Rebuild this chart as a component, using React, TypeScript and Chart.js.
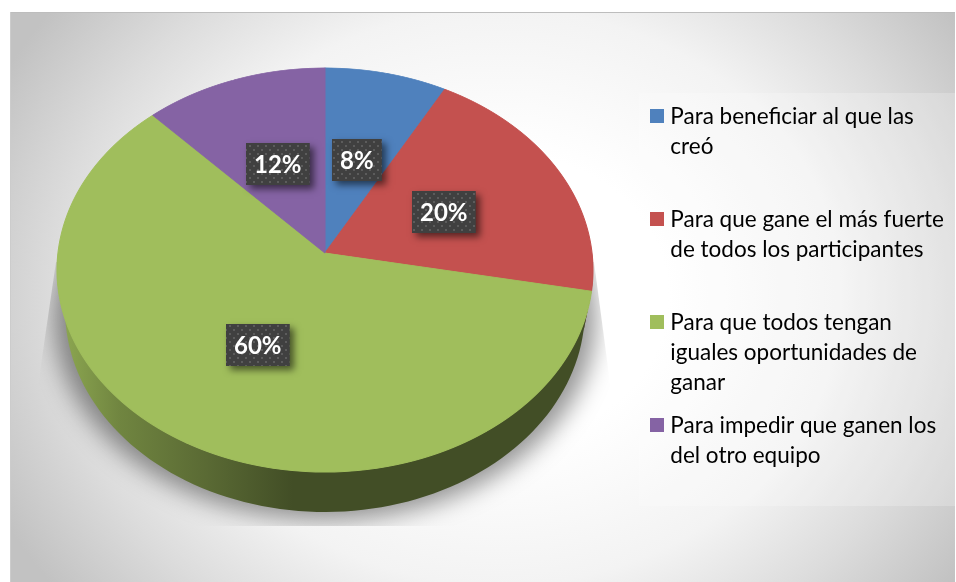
import React, { useEffect, useRef } from "react";
import { Chart, registerables } from "chart.js";

Chart.register(...registerables);

const categories = [
  ["Para beneficiar al que las", "creó", ""],
  ["Para que gane el más fuerte", "de todos los participantes", ""],
  ["Para que todos tengan", "iguales oportunidades de", "ganar"],
  ["Para impedir que ganen los", "del otro equipo", ""],
];
const percentages = [8, 20, 60, 12];
const sliceColors = ["#4f81bd", "#c4514f", "#a0be5c", "#8563a4"];

// Perspective of the pie's top face on the page
const AX = 325, AY = 253, HALF_W = 267, HALF_H = 200.6, K = -0.084, DEPTH = 40, SHRINK = 0.97;

const rgb = (hex: string) => [1, 3, 5].map((i) => parseInt(hex.slice(i, i + 2), 16));
const shade = (hex: string, f: number) => {
  const [r, g, b] = rgb(hex);
  return `rgb(${Math.round(r * f)},${Math.round(g * f)},${Math.round(b * f)})`;
};
const project = (u: number, v: number) => {
  const d = 1 + K * v;
  return { x: AX + (HALF_W * u) / d, y: AY + (HALF_H * v) / d };
};
const lower = (p: { x: number; y: number }) => ({ x: AX + (p.x - AX) * SHRINK, y: p.y + DEPTH });

const swatch = (color: string) => {
  const c = document.createElement("canvas");
  c.width = 14;
  c.height = 14;
  const x = c.getContext("2d")!;
  x.fillStyle = color;
  x.fillRect(0, 0, 14, 14);
  return c;
};

const dotPattern = (ctx: CanvasRenderingContext2D) => {
  const c = document.createElement("canvas");
  c.width = 8;
  c.height = 8;
  const x = c.getContext("2d")!;
  x.fillStyle = "#404040";
  x.fillRect(0, 0, 8, 8);
  x.fillStyle = "#5c5c5c";
  x.fillRect(1, 1, 2, 2);
  x.fillRect(5, 5, 2, 2);
  return ctx.createPattern(c, "repeat")!;
};

const pie3d = {
  id: "pie3d",
  beforeDraw(chart: any) {
    const { ctx, width, height } = chart;
    ctx.save();
    ctx.fillStyle = "#ffffff";
    ctx.fillRect(0, 0, width, height);
    // panel
    ctx.save();
    ctx.beginPath();
    ctx.rect(10, 12, 945, 570);
    ctx.clip();
    ctx.translate(500, 297);
    ctx.scale(560, 480);
    const g = ctx.createRadialGradient(0, 0, 0, 0, 0, 1);
    g.addColorStop(0, "#ffffff");
    g.addColorStop(0.3, "#ffffff");
    g.addColorStop(0.6, "#f3f3f3");
    g.addColorStop(0.8, "#dcdcdc");
    g.addColorStop(1, "#c2c2c2");
    ctx.fillStyle = g;
    ctx.fillRect(-2, -2, 4, 4);
    ctx.restore();
    ctx.fillStyle = "#bdbdbd";
    ctx.fillRect(10, 12, 945, 1);
    ctx.fillStyle = "#cccccc";
    ctx.fillRect(10, 12, 1, 570);
    // legend panel
    ctx.fillStyle = "rgba(255,255,255,0.22)";
    ctx.fillRect(639, 93, 316, 413);
    // ground shadow
    ctx.save();
    ctx.beginPath();
    ctx.moveTo(56, 262);
    ctx.lineTo(38, 385);
    ctx.lineTo(38, 526);
    ctx.lineTo(612, 526);
    ctx.lineTo(611, 390);
    ctx.lineTo(594, 262);
    ctx.closePath();
    ctx.clip();
    ctx.filter = "blur(12px)";
    ctx.fillStyle = "rgba(0,0,0,0.42)";
    ctx.beginPath();
    for (let a = 0; a <= 360; a += 3) {
      const p = project(Math.cos((a * Math.PI) / 180), Math.sin((a * Math.PI) / 180));
      const x = AX + (p.x - AX) * 1.01;
      const y = p.y + DEPTH + 8;
      if (a === 0) ctx.moveTo(x, y);
      else ctx.lineTo(x, y);
    }
    ctx.closePath();
    ctx.fill();
    ctx.restore();
    ctx.restore();
  },
  beforeDatasetDraw(chart: any, args: any) {
    const { ctx, width } = chart;
    const arcs = chart.getDatasetMeta(args.index).data;
    // side wall of the front-facing slices
    arcs.forEach((arc: any, i: number) => {
      const from = Math.max(arc.startAngle, 0);
      const to = Math.min(arc.endAngle, Math.PI);
      if (to <= from) return;
      const top: any[] = [];
      for (let k = 0; k <= 90; k++) {
        const a = from + ((to - from) * k) / 90;
        top.push(project(Math.cos(a), Math.sin(a)));
      }
      const base = sliceColors[i];
      const g = ctx.createLinearGradient(55, 0, 595, 0);
      g.addColorStop(0, shade(base, 0.9));
      g.addColorStop(0.12, shade(base, 0.7));
      g.addColorStop(0.28, shade(base, 0.56));
      g.addColorStop(0.44, shade(base, 0.41));
      g.addColorStop(1, shade(base, 0.41));
      ctx.save();
      ctx.fillStyle = g;
      ctx.beginPath();
      top.forEach((p, k) => (k ? ctx.lineTo(p.x, p.y) : ctx.moveTo(p.x, p.y)));
      top.slice().reverse().forEach((p) => {
        const q = lower(p);
        ctx.lineTo(q.x, q.y);
      });
      ctx.closePath();
      ctx.fill();
      ctx.restore();
    });
    // top face, drawn by the library's arcs through a perspective made of 1px strips
    const first = arcs[0];
    const cx = first.x, cy = first.y, R = first.outerRadius;
    for (let y = Math.floor(AY - 190); y < AY + 222; y++) {
      const t = y + 0.5 - AY;
      const v = t / (HALF_H - K * t);
      if (Math.abs(v) > 1.01) continue;
      const d = 1 + K * v;
      const sx = HALF_W / d / R;
      const sy = HALF_H / (d * d) / R;
      ctx.save();
      ctx.beginPath();
      ctx.rect(0, y, width, 1);
      ctx.clip();
      ctx.setTransform(sx, 0, 0, sy, AX - sx * cx, y + 0.5 - sy * (cy + R * v));
      arcs.forEach((arc: any) => arc.draw(ctx));
      ctx.restore();
    }
    return false;
  },
  afterDatasetsDraw(chart: any) {
    const { ctx } = chart;
    const arcs = chart.getDatasetMeta(0).data;
    const pat = dotPattern(ctx);
    arcs.forEach((arc: any, i: number) => {
      const c = arc.getCenterPoint();
      const p = project((c.x - arc.x) / arc.outerRadius, (c.y - arc.y) / arc.outerRadius);
      const text = `${percentages[i]}%`;
      ctx.save();
      ctx.font = "bold 24px Lato";
      const w = ctx.measureText(text).width + 16;
      const h = 42;
      const bx = Math.round(p.x - w / 2);
      const by = Math.round(p.y - h / 2 + 0.5);
      ctx.save();
      ctx.shadowColor = "rgba(0,0,0,0.55)";
      ctx.shadowBlur = 7;
      ctx.shadowOffsetX = 4;
      ctx.shadowOffsetY = 4;
      ctx.fillStyle = "#404040";
      ctx.fillRect(bx, by, w, h);
      ctx.restore();
      ctx.fillStyle = pat;
      ctx.fillRect(bx, by, w, h);
      ctx.fillStyle = "#ffffff";
      ctx.textAlign = "center";
      ctx.textBaseline = "middle";
      ctx.fillText(text, bx + w / 2, by + h / 2 + 1);
      ctx.restore();
    });
  },
};

export default function App() {
  const ref = useRef<HTMLCanvasElement>(null);
  useEffect(() => {
    document.body.style.margin = "0";
    const chart = new Chart(ref.current!, {
      type: "pie",
      data: {
        labels: categories as any,
        datasets: [
          {
            data: percentages,
            backgroundColor: sliceColors,
            borderColor: sliceColors,
            borderWidth: 1,
          },
        ],
      },
      options: {
        responsive: false,
        animation: false,
        devicePixelRatio: 1,
        layout: { padding: { top: 92, right: 2, left: 0, bottom: 0 } },
        plugins: {
          tooltip: { enabled: false },
          legend: {
            position: "right",
            align: "start",
            labels: {
              usePointStyle: true,
              pointStyleWidth: 3.5,
              padding: 13,
              color: "#404040",
              font: { family: "Lato", size: 22.5, lineHeight: 30 / 22.5 },
              generateLabels: (c: any) =>
                c.data.labels.map((text: string[], i: number) => ({
                  text,
                  fillStyle: sliceColors[i],
                  strokeStyle: sliceColors[i],
                  lineWidth: 0,
                  hidden: false,
                  index: i,
                  pointStyle: swatch(sliceColors[i]),
                })),
            },
          },
        },
      } as any,
      plugins: [pie3d as any],
    });
    return () => chart.destroy();
  }, []);
  return (
    <div style={{ width: 956, height: 582 }}>
      <canvas ref={ref} width={956} height={582} style={{ display: "block" }} />
    </div>
  );
}
